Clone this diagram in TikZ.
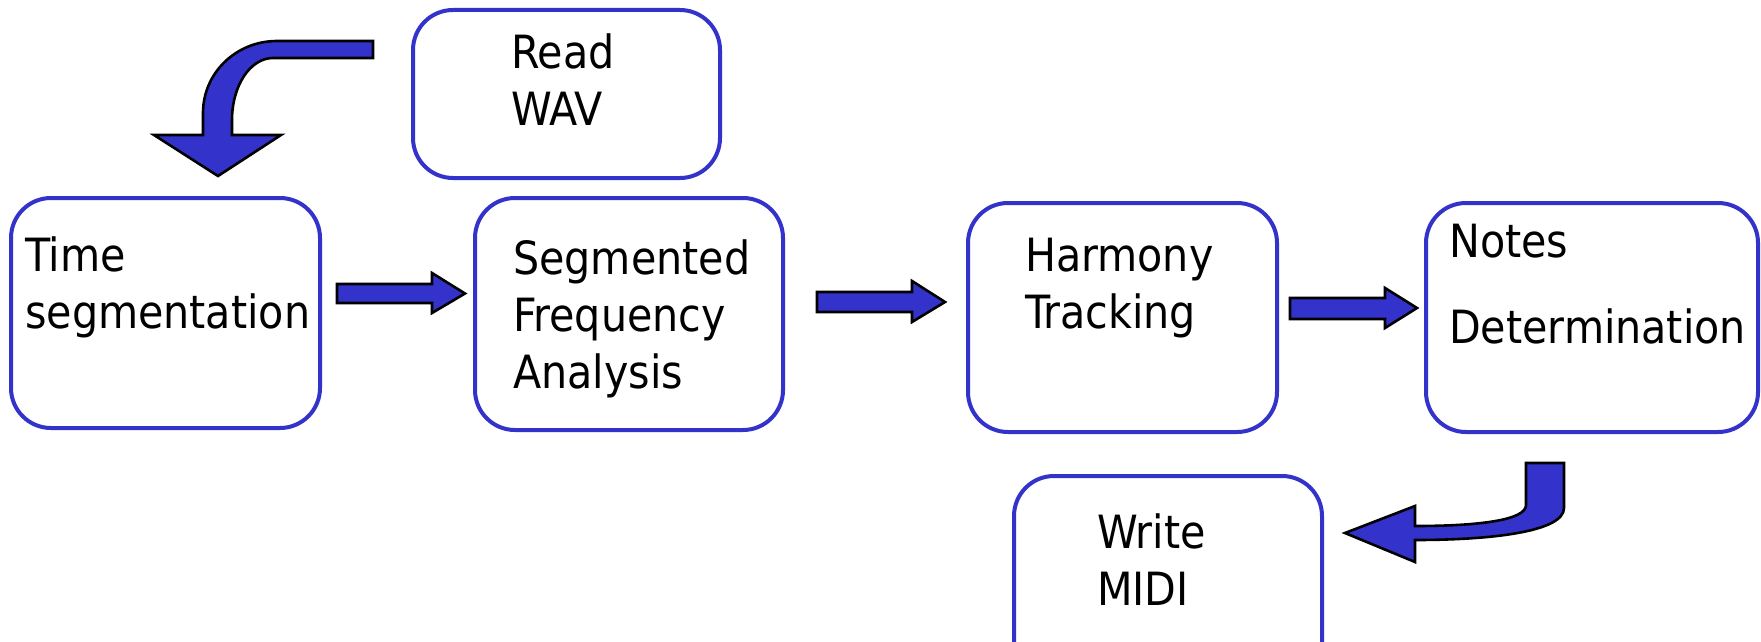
\documentclass[tikz,border=0pt]{standalone}
\usepackage{fontspec}
\setmainfont{DejaVu Sans Condensed}
\definecolor{boxblue}{HTML}{3333CC}
\tikzset{
  procbox/.style={draw=boxblue, line width=4pt, rounded corners=40pt, fill=white},
  lbl/.style={inner sep=0pt, anchor=base west, align=left, font=\fontsize{45.8}{57}\selectfont},
  blockarrow/.style={draw=black, fill=boxblue, line width=2.6pt, line join=miter},
}
\begin{document}
\begin{tikzpicture}[x=1pt,y=-1pt]
\useasboundingbox (0,0) rectangle (1761,642);
\clip (0,0) rectangle (1761,642);
% boxes
\draw[procbox] (413,10) rectangle (720,178);
\draw[procbox] (11,198) rectangle (320,428);
\draw[procbox] (475,198) rectangle (783,430);
\draw[procbox] (968,203) rectangle (1277,432);
\draw[procbox] (1426,203) rectangle (1758,432);
\draw[procbox] (1014,476) rectangle (1322,710);
% labels (anchor = baseline of the last line)
\node[lbl] (read) at (511,125) {Read\\WAV};
\node[lbl] (tseg) at (25,328) {Time\\segmentation};
\node[lbl] (sfa) at (513,388) {Segmented\\Frequency\\Analysis};
\node[lbl] (harm) at (1025,328) {Harmony\\Tracking};
\node[lbl] (notes) at (1449,343) {Notes\\[29pt]Determination};
\node[lbl] (midi) at (1097,605) {Write\\MIDI};
% straight block arrows
\draw[blockarrow] (337,284) -- (432,284) -- (432,273) -- (465,293.5) -- (432,313) -- (432,303) -- (337,303) -- cycle;
\draw[blockarrow] (817,292) -- (912,292) -- (912,281) -- (945,302) -- (912,322) -- (912,312) -- (817,312) -- cycle;
\draw[blockarrow] (1290,298) -- (1385,298) -- (1385,288) -- (1417,308) -- (1385,328) -- (1385,319) -- (1290,319) -- cycle;
% curved arrow top-left
\draw[blockarrow] (373,41) -- (277,41)
  .. controls (236,41) and (203,73) .. (203,113)
  -- (203,135) -- (154,135) -- (218,176) -- (281,135) -- (232,135) -- (232,120)
  .. controls (232,86) and (250,58) .. (273,58)
  -- (373,58) -- cycle;
% curved arrow bottom-right
\draw[blockarrow] (1526,463) -- (1564,463) -- (1564,508)
  .. controls (1564,532) and (1490,540) .. (1415,540)
  -- (1415,562) -- (1345,533) -- (1415,506) -- (1415,526)
  .. controls (1480,526) and (1526,520) .. (1526,505)
  -- cycle;
\end{tikzpicture}
\end{document}
